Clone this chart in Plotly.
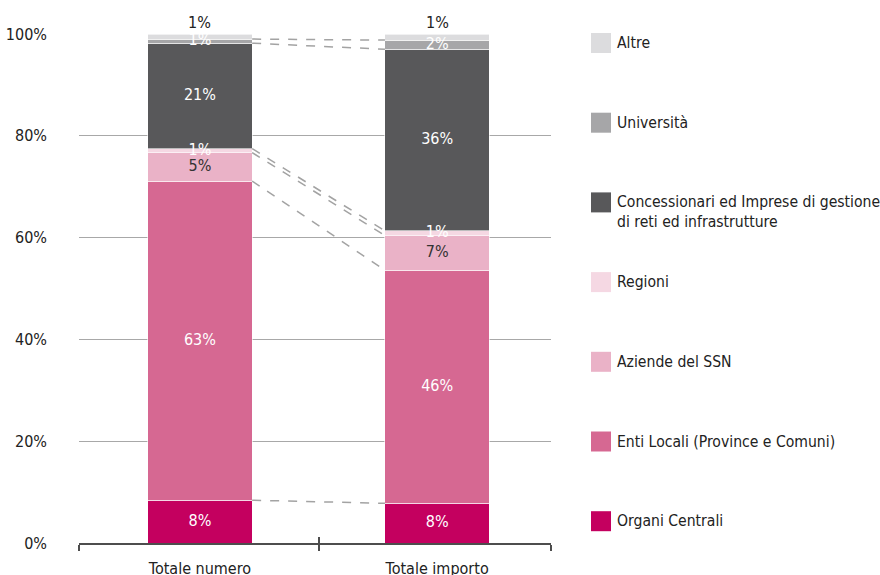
import plotly.graph_objects as go

categories = ["Totale numero", "Totale importo"]
series_names = [
    "Organi Centrali",
    "Enti Locali (Province e Comuni)",
    "Aziende del SSN",
    "Regioni",
    "Concessionari ed Imprese di gestione<br>di reti ed infrastrutture",
    "Università",
    "Altre",
]
values_numero = [8.4, 62.7, 5.6, 0.8, 20.7, 0.8, 1.0]
values_importo = [7.8, 45.8, 6.8, 0.9, 35.7, 1.8, 1.2]
labels_numero = ["8%", "63%", "5%", "1%", "21%", "1%", "1%"]
labels_importo = ["8%", "46%", "7%", "1%", "36%", "2%", "1%"]
colors = ["#C4005F", "#D66892", "#EAB2C7", "#F5D8E3", "#58585A", "#A6A6A8", "#DCDCDE"]
label_colors = ["white", "white", "#333333", "white", "white", "white", None]
y_ticks = [0, 20, 40, 60, 80, 100]
y_ticktext = ["0%", "20%", "40%", "60%", "80%", "100%"]

FONT = "Liberation Sans Narrow, Arial Narrow, DejaVu Sans Condensed, sans-serif"
W, H = 880, 575
ML, MR, MT, MB = 79, 329, 34, 32
BAR_W = 0.44
x_pos = [0, 1]
X_RANGE = [-0.51, 1.48]

fig = go.Figure()
series_vals = [[values_numero[i], values_importo[i]] for i in range(len(series_names))]
series_labels = [[labels_numero[i], labels_importo[i]] for i in range(len(series_names))]

for i, name in enumerate(series_names):
    fig.add_trace(go.Bar(
        x=x_pos, y=series_vals[i], name=name, width=BAR_W,
        marker=dict(color=colors[i], line=dict(color="white", width=0.6)),
        showlegend=False, hoverinfo="skip",
    ))
fig.update_layout(barmode="stack")

# cumulative values
cum = [[0.0, 0.0]]
for i in range(len(series_names)):
    cum.append([cum[-1][k] + series_vals[i][k] for k in range(2)])

# dashed connectors between segment tops
for i in range(len(series_names) - 1):
    top = cum[i + 1]
    fig.add_trace(go.Scatter(
        x=[x_pos[0] + BAR_W / 2, x_pos[1] - BAR_W / 2], y=top, mode="lines",
        line=dict(color="#A3A3A3", width=1.5, dash="dash"),
        showlegend=False, hoverinfo="skip",
    ))

# inside labels
for i in range(len(series_names)):
    if label_colors[i] is None:
        continue
    ys = [cum[i][k] + series_vals[i][k] / 2 for k in range(2)]
    fig.add_trace(go.Scatter(
        x=x_pos, y=ys, mode="text", text=series_labels[i],
        textfont=dict(family=FONT, size=16, color=label_colors[i]),
        showlegend=False, hoverinfo="skip", cliponaxis=False,
    ))

# outside labels for the top series
last = len(series_names) - 1
for k in range(2):
    fig.add_annotation(x=x_pos[k], y=cum[-1][k], text=series_labels[last][k],
                       showarrow=False, yanchor="bottom", yshift=0,
                       font=dict(family=FONT, size=16, color="#222222"))

# helper axis for upward tick marks
fig.add_trace(go.Scatter(x=[], y=[], xaxis="x2", showlegend=False))

tick_bounds = [X_RANGE[0], 0.5, X_RANGE[1]]

fig.update_layout(
    width=W, height=H,
    margin=dict(l=ML, r=MR, t=MT, b=MB, autoexpand=False),
    paper_bgcolor="white", plot_bgcolor="white",
    font=dict(family=FONT, size=16, color="#222222"),
    xaxis=dict(
        range=X_RANGE, tickvals=x_pos, ticktext=categories,
        ticks="", showgrid=False, zeroline=False, automargin=False,
        showline=True, linecolor="#4D4D4D", linewidth=1.5,
        minor=dict(tickvals=tick_bounds, ticks="outside", ticklen=6,
                   tickcolor="#4D4D4D", tickwidth=1.5),
        ticklabelstandoff=10,
        tickfont=dict(family=FONT, size=16, color="#222222"),
    ),
    xaxis2=dict(
        overlaying="x", anchor="y", side="bottom", matches="x",
        range=X_RANGE, tickvals=tick_bounds, ticktext=["", "", ""],
        ticks="inside", ticklen=6, tickcolor="#4D4D4D", tickwidth=1.5,
        showgrid=False, zeroline=False, showline=False, showticklabels=False,
        automargin=False,
    ),
    yaxis=dict(
        range=[0, 100], tickvals=y_ticks, ticktext=y_ticktext,
        showgrid=True, gridcolor="#A8A8A8", gridwidth=1,
        zeroline=False, showline=False, ticks="", automargin=False,
        ticklabelstandoff=31,
        tickfont=dict(family=FONT, size=16, color="#222222"),
    ),
)

# manual legend (pixel layout converted to paper coords)
pw = W - ML - MR
ph = H - MT - MB
def px_x(px):
    return (px - ML) / pw
def px_y(py):
    return (H - MB - py) / ph

legend_order = list(range(len(series_names)))[::-1]
for j, i in enumerate(legend_order):
    cy = 43 + j * 79.7
    fig.add_shape(type="rect", xref="paper", yref="paper",
                  x0=px_x(591), x1=px_x(611), y0=px_y(cy + 10), y1=px_y(cy - 10),
                  fillcolor=colors[i], line=dict(width=0))
    multi = "<br>" in series_names[i]
    fig.add_annotation(xref="paper", yref="paper", x=px_x(615),
                       y=px_y(cy - 11) if multi else px_y(cy),
                       xanchor="left", yanchor="top" if multi else "middle",
                       align="left", showarrow=False, text=series_names[i],
                       font=dict(family=FONT, size=15.6, color="#222222"))

fig.write_html("out.html", config={"displayModeBar": False},
               post_script="document.body.style.margin='0';document.body.style.overflow='hidden';")
